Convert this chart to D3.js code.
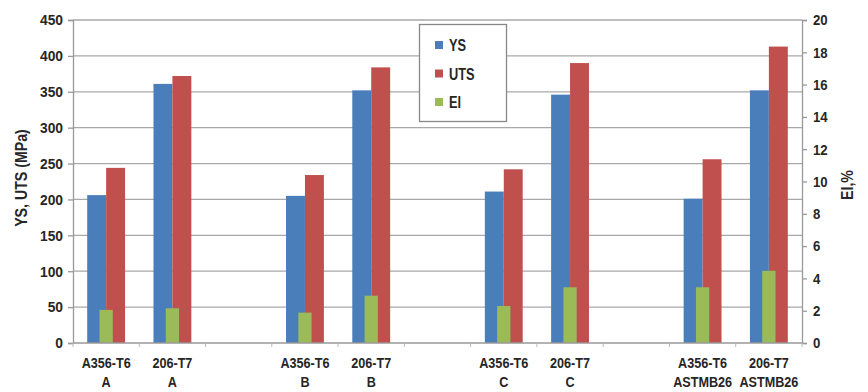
<!DOCTYPE html>
<html>
<head>
<meta charset="utf-8">
<script src="https://cdn.jsdelivr.net/npm/d3@7"></script>
<style>
html,body{margin:0;padding:0;background:#fff;}
svg{display:block;}
text{font-family:"Liberation Sans",Arial,sans-serif;font-weight:bold;fill:#262626;}
</style>
</head>
<body>
<svg id="chart" width="868" height="392"></svg>
<script>
// ---- data ----
const alloys  = ["A356-T6","206-T7","","A356-T6","206-T7","","A356-T6","206-T7","","A356-T6","206-T7"];
const sources = ["A","A","","B","B","","C","C","","ASTMB26","ASTMB26"];
const ysValues  = [206, 361, null, 205, 352, null, 211, 346, null, 201, 352];
const utsValues = [244, 372, null, 234, 384, null, 242, 390, null, 256, 413];
const elValues  = [2.05, 2.15, null, 1.88, 2.93, null, 2.29, 3.45, null, 3.45, 4.47];
const leftTicks  = [0,50,100,150,200,250,300,350,400,450];
const rightTicks = [0,2,4,6,8,10,12,14,16,18,20];
const seriesNames = ["YS","UTS","El"];
const colors = {YS:"#4a7ebb", UTS:"#c0504d", El:"#9bbb59"};

// ---- layout ----
const svg = d3.select("#chart");
const L = 73, R = 802, T = 20, B = 343;

const x = d3.scaleBand().domain(d3.range(alloys.length)).range([L, R]).paddingInner(0).paddingOuter(0);
const y = d3.scaleLinear().domain([0, 450]).range([B, T]);
const y2 = d3.scaleLinear().domain([0, 20]).range([B, T]);

const slot = x.bandwidth();
const wPrim = slot / 3.5;   // 2 series, gap 150%
const wSec = slot / 5;      // 1 series, gap 400%

function ctext(parent, px, py, str, size, sx, anchor, rot) {
  const g = parent.append("g").attr("transform", `translate(${px},${py})` + (rot ? ` rotate(${rot})` : ""));
  return g.append("text").attr("transform", `scale(${sx},1)`)
    .attr("text-anchor", anchor || "middle").style("font-size", size + "px").text(str);
}

// gridlines
svg.append("g").selectAll("line").data(leftTicks.filter(d => d > 0)).join("line")
  .attr("x1", L).attr("x2", R)
  .attr("y1", d => y(d)).attr("y2", d => y(d))
  .attr("stroke", "#a8a8a8").attr("stroke-width", 1.3);

// bars
const idx = d3.range(alloys.length).filter(i => ysValues[i] != null);
svg.append("g").selectAll("rect").data(idx).join("rect")
  .attr("x", i => x(i) + slot/2 - wPrim)
  .attr("width", wPrim)
  .attr("y", i => y(ysValues[i]))
  .attr("height", i => B - y(ysValues[i]))
  .attr("fill", colors.YS);
svg.append("g").selectAll("rect").data(idx).join("rect")
  .attr("x", i => x(i) + slot/2)
  .attr("width", wPrim)
  .attr("y", i => y(utsValues[i]))
  .attr("height", i => B - y(utsValues[i]))
  .attr("fill", colors.UTS);
svg.append("g").selectAll("rect").data(idx).join("rect")
  .attr("x", i => x(i) + slot/2 - wSec/2)
  .attr("width", wSec)
  .attr("y", i => y2(elValues[i]))
  .attr("height", i => B - y2(elValues[i]))
  .attr("fill", colors.El);

// left axis
const TSX = 0.92;
const gl = svg.append("g").attr("transform", `translate(${L},0)`)
  .call(d3.axisLeft(y).tickValues(leftTicks).tickSize(5).tickPadding(5));
gl.select(".domain").attr("stroke", "#999").attr("stroke-width", 1.3);
gl.selectAll(".tick line").attr("stroke", "#999").attr("stroke-width", 1.3);
gl.selectAll(".tick text").style("font-size", "15px").attr("fill", "#262626")
  .attr("x", -10 / TSX).attr("transform", `scale(${TSX},1)`);

// right axis
const gr = svg.append("g").attr("transform", `translate(${R},0)`)
  .call(d3.axisRight(y2).tickValues(rightTicks).tickSize(5).tickPadding(7));
gr.select(".domain").attr("stroke", "#999").attr("stroke-width", 1.3);
gr.selectAll(".tick line").attr("stroke", "#999").attr("stroke-width", 1.3);
gr.selectAll(".tick text").style("font-size", "15px").attr("fill", "#262626")
  .attr("x", 11 / 0.88).attr("transform", `scale(0.88,1)`);

// x axis line & boundary ticks
svg.append("line").attr("x1", L).attr("x2", R).attr("y1", B).attr("y2", B)
  .attr("stroke", "#999").attr("stroke-width", 1.3);
svg.append("g").selectAll("line").data(d3.range(alloys.length + 1)).join("line")
  .attr("x1", i => L + i*slot).attr("x2", i => L + i*slot)
  .attr("y1", B).attr("y2", B + 4)
  .attr("stroke", "#bbb").attr("stroke-width", 1);

// category labels
const labs = svg.append("g");
d3.range(alloys.length).forEach(i => {
  if (!alloys[i]) return;
  ctext(labs, x(i) + slot/2, 368, alloys[i], 14.5, 0.87);
  ctext(labs, x(i) + slot/2, 387, sources[i], 14.5, 0.87);
});

// axis titles
ctext(svg, 27, 178, "YS, UTS (MPa)", 16.5, 0.86, "middle", -90);
ctext(svg, 853, 185, "El,%", 16.5, 0.86, "middle", -90);

// legend
const lg = svg.append("g");
lg.append("rect").attr("x", 419.5).attr("y", 24.5).attr("width", 87).attr("height", 97)
  .attr("fill", "#fff").attr("stroke", "#888").attr("stroke-width", 1.3);
seriesNames.forEach((d, i) => {
  const cy = 45 + i*28.5;
  lg.append("rect").attr("x", 435).attr("y", cy - 4).attr("width", 8).attr("height", 8).attr("fill", colors[d]);
  ctext(lg, 449, cy + 6, d, 16, 0.8, "start");
});
</script>
</body>
</html>
